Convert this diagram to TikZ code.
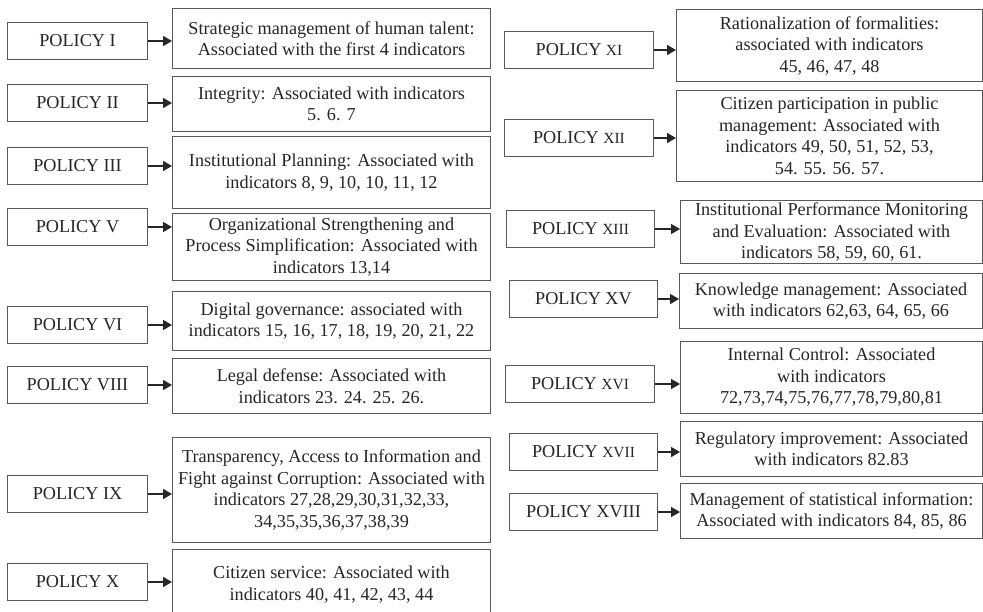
\documentclass[tikz,border=0pt]{standalone}
\usepackage{fontspec}
\setmainfont{Liberation Serif}
\usepackage{tikz}
\usetikzlibrary{shapes,arrows.meta}
\newcommand{\sml}[1]{{\fontsize{15.5}{21}\selectfont #1}}
\tikzstyle{pol} = [rectangle,draw=black!65,line width=1pt,anchor=north west,minimum height=37pt,text=black!85,inner sep=0pt]
\tikzstyle{arr} = [line width=1.6pt,black!85,-{Triangle[length=9pt,width=10pt]}]

\begin{document}
\begin{tikzpicture}
		[
		x=1pt,y=-1pt,
		font=\fontsize{18.2}{21.5}\selectfont,
		desc/.style={
		draw=black!65,
		line width=1pt,
		rectangle,
		anchor=north west,
		align=center,
		inner sep=0pt,
		text=black!85}
		]
		\useasboundingbox (0,0) rectangle (983,611);
		% left column
		\node[pol,minimum width=140pt](p1) at (7,22) {POLICY I};
		\node[desc,minimum width=318pt,minimum height=60pt](d1) at (172,8) {Strategic management of human talent:\\Associated with the first 4 indicators};
		\node[pol,minimum width=140pt](p2) at (7,84) {POLICY II};
		\node[desc,minimum width=318pt,minimum height=55pt](d2) at (172,76) {Integrity: Associated with indicators\\5. 6. 7};
		\node[pol,minimum width=140pt](p3) at (7,147) {POLICY III};
		\node[desc,minimum width=318pt,minimum height=72pt](d3) at (172,136) {Institutional Planning: Associated with\\indicators 8, 9, 10, 10, 11, 12};
		\node[pol,minimum width=140pt](p5) at (7,208) {POLICY V};
		\node[desc,minimum width=318pt,minimum height=67pt](d5) at (172,213) {Organizational Strengthening and\\Process Simplification: Associated with\\indicators 13,14};
		\node[pol,minimum width=140pt](p6) at (7,306) {POLICY VI};
		\node[desc,minimum width=318pt,minimum height=59pt](d6) at (172,291) {Digital governance: associated with\\indicators 15, 16, 17, 18, 19, 20, 21, 22};
		\node[pol,minimum width=140pt](p8) at (7,366) {POLICY VIII};
		\node[desc,minimum width=318pt,minimum height=55pt](d8) at (172,358) {Legal defense: Associated with\\indicators 23. 24. 25. 26.};
		\node[pol,minimum width=140pt](p9) at (7,475) {POLICY IX};
		\node[desc,minimum width=318pt,minimum height=105pt](d9) at (172,437) {Transparency, Access to Information and\\Fight against Corruption: Associated with\\indicators 27,28,29,30,31,32,33,\\34,35,35,36,37,38,39};
		\node[pol,minimum width=140pt](p10) at (7,563) {POLICY X};
		\node[desc,minimum width=318pt,minimum height=70pt](d10) at (172,549) {Citizen service: Associated with\\indicators 40, 41, 42, 43, 44};
		% right column
		\node[pol,minimum width=149pt](p11) at (504,31) {POLICY \sml{XI}};
		\node[desc,minimum width=306pt,minimum height=72pt](d11) at (676,9) {Rationalization of formalities:\\associated with indicators\\45, 46, 47, 48};
		\node[pol,minimum width=149pt](p12) at (504,119) {POLICY \sml{XII}};
		\node[desc,minimum width=306pt,minimum height=91pt](d12) at (676,90) {Citizen participation in public\\management: Associated with\\indicators 49, 50, 51, 52, 53,\\54. 55. 56. 57.};
		\node[pol,minimum width=148pt](p13) at (506,210) {POLICY \sml{XIII}};
		\node[desc,minimum width=302pt,minimum height=63pt](d13) at (680,200) {Institutional Performance Monitoring\\and Evaluation: Associated with\\indicators 58, 59, 60, 61.};
		\node[pol,minimum width=148pt](p15) at (509,280) {POLICY XV};
		\node[desc,minimum width=303pt,minimum height=55pt](d15) at (679,273) {Knowledge management: Associated\\with indicators 62,63, 64, 65, 66};
		\node[pol,minimum width=149pt](p16) at (505,365) {POLICY \sml{XVI}};
		\node[desc,minimum width=302pt,minimum height=72pt](d16) at (680,341) {Internal Control: Associated\\with indicators\\72,73,74,75,76,77,78,79,80,81};
		\node[pol,minimum width=148pt](p17) at (509,433) {POLICY \sml{XVII}};
		\node[desc,minimum width=302pt,minimum height=55pt](d17) at (680,421) {Regulatory improvement: Associated\\with indicators 82.83};
		\node[pol,minimum width=148pt](p18) at (509,493) {POLICY XVIII};
		\node[desc,minimum width=302pt,minimum height=55pt](d18) at (680,483) {Management of statistical information:\\Associated with indicators 84, 85, 86};
		% arrows
		\foreach \p/\d in {p1/d1,p2/d2,p3/d3,p5/d5,p6/d6,p8/d8,p9/d9,p10/d10,p11/d11,p12/d12,p13/d13,p15/d15,p16/d16,p17/d17,p18/d18}
		\draw[arr] (\p.east) -- (\p.east -| \d.west);
		\end{tikzpicture}
\end{document}
